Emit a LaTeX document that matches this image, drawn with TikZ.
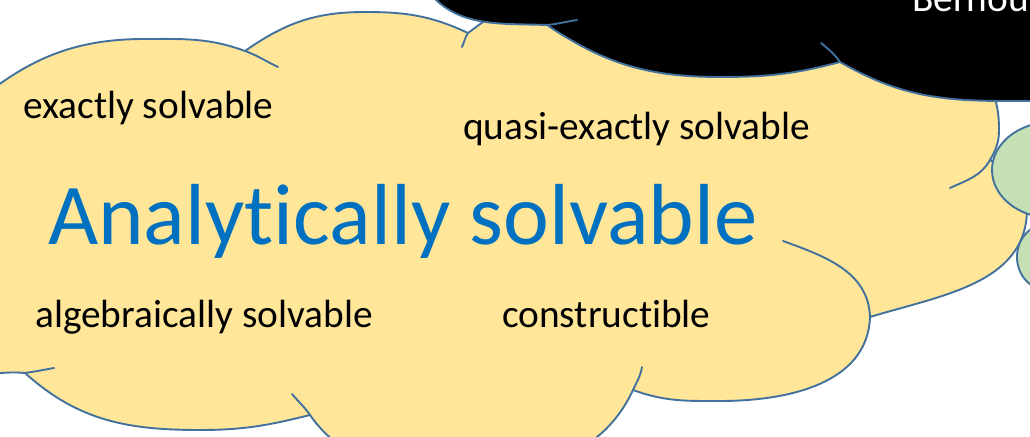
\documentclass[tikz,border=0pt]{standalone}
\usepackage{fontspec}
\setmainfont{Carlito}[Ligatures={NoCommon}]
\definecolor{cloudyellow}{RGB}{255,230,153}
\definecolor{cloudgreen}{RGB}{197,224,180}
\definecolor{cloudblue}{RGB}{65,113,156}
\definecolor{titleblue}{RGB}{0,112,192}
\begin{document}
\begin{tikzpicture}[x=1bp, y=1bp, line cap=round, line join=round,
  cloudline/.style={draw=cloudblue, line width=\cloudLineWidth},
  cloudtext/.style={anchor=base west, inner sep=0pt, font=\fontsize{39.5}{44}\selectfont}]
% Clouds, coordinates in pixels
\providecommand{\cloudLineWidth}{1.9bp}
\useasboundingbox (0,0) rectangle (1030,437);
\begin{scope}
  \clip (0,0) rectangle (1030,437);
  % Yellow cloud, outer outline
  \path[cloudline, fill=cloudyellow] (-30,330) to[out=40,in=180] (145,398)
    to[out=0,in=160] (245,386) to[out=35,in=180] (365,425)
    to[out=0,in=155] (468,404) to[out=35,in=215] (483,415)
    -- (510,450) -- (985,450) -- (985,360)
    to[out=-60,in=90] (999,307) to[out=-90,in=60] (990,277)
    to[out=-30,in=90] (1027,228) to[out=-90,in=17] (870,120)
    to[out=-92,in=0] (720,36) to[out=180,in=-20] (633,47)
    to[out=-115,in=0] (470,-35) to[out=180,in=-55] (310,22)
    to[out=194,in=0] (200,7) to[out=180,in=-42] (25,64)
    to[out=175,in=0] (-30,62) -- cycle;
  % Inner arcs
  \begin{scope}[cloudline]
    \draw (245,386) to[out=-20,in=155] (278,370);
    \draw (462,390) to[out=65,in=235] (468,404);
    \draw (990,277) to[out=240,in=25] (950,249);
    \draw (870,120) to[out=92,in=-20] (783,196);
    \draw (633,47) to[out=65,in=-100] (642,70);
    \draw (310,22) to[out=125,in=-50] (292,43);
    \draw (25,64) to[out=8,in=190] (54,69);
  \end{scope}
  % Black cloud
  \path[cloudline, fill=black] (425,450) to[out=-55,in=178] (547,412)
    to[out=-34,in=180] (720,360) to[out=0,in=195] (840,375)
    to[out=-30,in=180] (1005,336) -- (1040,336) -- (1040,450) -- cycle;
  \begin{scope}[cloudline]
    \draw (547,412) to[out=5,in=188] (577,417);
    \draw (840,375) to[out=125,in=-40] (821,394);
  \end{scope}
  % Green cloud
  \path[cloudline, fill=cloudgreen] (1052,267) ellipse [x radius=60, y radius=48];
  \path[cloudline, fill=cloudgreen] (1047,180) ellipse [x radius=30, y radius=33];
\end{scope}
% Texts
\node[cloudtext, text=white] (bern) at (912,425) {Bernou};
\node[cloudtext] (exact) at (23,318) {exactly solvable};
\node[cloudtext] (quasi) at (463,297) {quasi-exactly solvable};
\node[cloudtext, text=titleblue, font=\fontsize{87}{92}\selectfont] (anal) at (48,192) {Analytically solvable};
\node[cloudtext] (alg) at (35,109) {algebraically solvable};
\node[cloudtext] (constr) at (502,109) {constructible};
\end{tikzpicture}
\end{document}
